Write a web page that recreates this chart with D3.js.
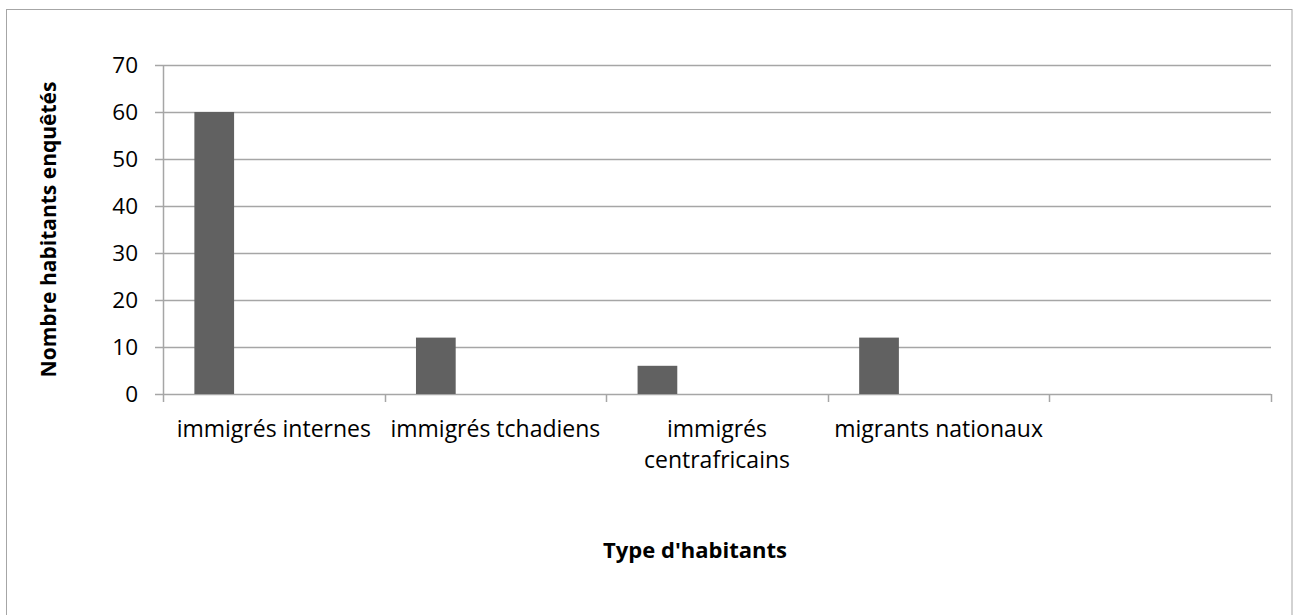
<!DOCTYPE html>
<html>
<head>
<meta charset="utf-8">
<script src="https://cdn.jsdelivr.net/npm/d3@7"></script>
<style>
  html, body { margin: 0; padding: 0; background: #fff; }
  svg { display: block; }
  text { font-family: "Open Sans", Lato, sans-serif; fill: #000; }
</style>
</head>
<body>
<svg id="chart" width="1294" height="615"></svg>
<script>
// ---- data ----
const categories = ["immigrés internes", "immigrés tchadiens", "immigrés centrafricains", "migrants nationaux", ""];
const categoryLines = [["immigrés internes"], ["immigrés tchadiens"], ["immigrés", "centrafricains"], ["migrants nationaux"], []];
const values = [60, 12, 6, 12, null];
const seriesSlots = ["s1", "s2", "s3", "s4"]; // clustered slots, only the first holds data
const yTicks = [0, 10, 20, 30, 40, 50, 60, 70];
const xTitle = "Type d'habitants";
const yTitle = "Nombre habitants enquêtés";

// ---- layout ----
const plot = { left: 163, right: 1271, top: 65, bottom: 394 };
const svg = d3.select("#chart");

// outer chart border
svg.append("rect")
  .attr("x", 6.5).attr("y", 9.5)
  .attr("width", 1285.5).attr("height", 620)
  .attr("fill", "#fff").attr("stroke", "#a6a6a6").attr("stroke-width", 1);

const x = d3.scaleBand().domain(categories.map((c, i) => i)).range([plot.left, plot.right]).paddingInner(0).paddingOuter(0);
const xs = d3.scaleBand().domain(seriesSlots).range([0, x.bandwidth()]).paddingInner(0).paddingOuter(0.79);
const y = d3.scaleLinear().domain([0, 70]).range([plot.bottom, plot.top]);

const gridColor = "#a6a6a6";

// gridlines (including tick stubs to the left)
svg.append("g").selectAll("line").data(yTicks).join("line")
  .attr("x1", plot.left - 8).attr("x2", plot.right)
  .attr("y1", d => Math.round(y(d)) + 0.5).attr("y2", d => Math.round(y(d)) + 0.5)
  .attr("stroke", gridColor).attr("stroke-width", 1.5);

// y axis line
svg.append("line")
  .attr("x1", plot.left + 0.5).attr("x2", plot.left + 0.5)
  .attr("y1", plot.top).attr("y2", plot.bottom + 8)
  .attr("stroke", gridColor).attr("stroke-width", 1.5);

// category tick marks
const bounds = categories.map((c, i) => x(i)).concat([plot.right]);
svg.append("g").selectAll("line").data(bounds.slice(1)).join("line")
  .attr("x1", d => Math.round(d) + 0.5).attr("x2", d => Math.round(d) + 0.5)
  .attr("y1", plot.bottom).attr("y2", plot.bottom + 8)
  .attr("stroke", gridColor).attr("stroke-width", 1.5);

// bars
svg.append("g").selectAll("rect").data(values.map((v, i) => ({ v, i })).filter(d => d.v != null)).join("rect")
  .attr("x", d => x(d.i) + xs("s1"))
  .attr("width", xs.bandwidth())
  .attr("y", d => y(d.v))
  .attr("height", d => y(0) - y(d.v))
  .attr("fill", "#616161");

// y tick labels
svg.append("g").selectAll("text").data(yTicks).join("text")
  .attr("x", 138).attr("y", d => y(d))
  .attr("dy", "0.36em")
  .attr("text-anchor", "end")
  .attr("font-size", 22.5)
  .text(d => d);

// category labels
const catG = svg.append("g");
categoryLines.forEach((lines, i) => {
  const cx = x(i) + x.bandwidth() / 2;
  lines.forEach((ln, j) => {
    catG.append("text")
      .attr("x", cx).attr("y", 437 + j * 31)
      .attr("text-anchor", "middle")
      .attr("font-size", 23)
      .text(ln);
  });
});

// axis titles
svg.append("text")
  .attr("x", 695).attr("y", 558)
  .attr("text-anchor", "middle")
  .attr("font-size", 22).attr("font-weight", "bold")
  .text(xTitle);

svg.append("text")
  .attr("transform", `translate(56, ${(plot.top + plot.bottom) / 2}) rotate(-90)`)
  .attr("text-anchor", "middle")
  .attr("font-size", 21).attr("font-weight", "bold")
  .text(yTitle);
</script>
</body>
</html>
